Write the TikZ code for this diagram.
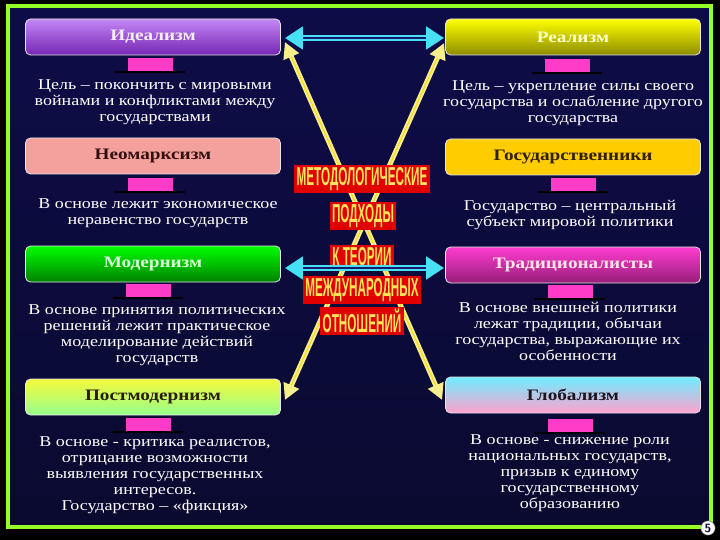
\documentclass[tikz,border=0pt]{standalone}
\usepackage{fontspec}
\setmainfont[FakeStretch=1.2]{Liberation Serif}
\newfontfamily\titlefont[FakeStretch=0.45]{Liberation Sans}
\usetikzlibrary{arrows.meta,calc}

\definecolor{bgtop}{RGB}{14,12,72}
\definecolor{bgmid}{RGB}{24,24,112}
\definecolor{bgbot}{RGB}{10,10,48}
\definecolor{framegreen}{RGB}{150,255,40}
\definecolor{barpink}{RGB}{255,60,200}
\definecolor{ttlred}{RGB}{225,0,0}
\definecolor{ttlyellow}{RGB}{255,228,90}
\definecolor{arrcyan}{RGB}{70,225,245}
\definecolor{arryellow}{RGB}{245,238,140}

\begin{document}
\begin{tikzpicture}[x=1pt,y=-1pt,
  hdr/.style={draw=white!80!gray, line width=0.8pt, rounded corners=5pt,
    minimum width=255pt, minimum height=36pt, inner sep=0pt,
    font=\bfseries\fontsize{16}{18}\selectfont},
  desc/.style={text=white, align=center, inner sep=0pt,
    font=\fontsize{15}{16}\selectfont},
  pinkbar/.style={fill=barpink, minimum width=45pt, minimum height=14pt, inner sep=0pt},
  ttl/.style={fill=ttlred, text=ttlyellow, inner sep=2.5pt,
    font=\titlefont\bfseries\fontsize{26}{26}\selectfont},
  cyanarr/.style={arrcyan, line width=6pt,
    {Triangle[length=18pt,width=22pt]}-{Triangle[length=18pt,width=22pt]}},
  cyanmid/.style={bgmid, line width=1.5pt, shorten <=18pt, shorten >=18pt},
  yelarr/.style={arryellow, line width=5pt,
    {Triangle[length=16pt,width=16pt]}-{Triangle[length=16pt,width=16pt]}},
  yelmid/.style={yellow!70!orange, line width=0.8pt, shorten <=16pt, shorten >=16pt}]

\useasboundingbox (0,0) rectangle (720,540);
\fill[black] (0,0) rectangle (720,540);
\shade[top color=bgtop, middle color=bgmid, bottom color=bgbot] (8,6) rectangle (711,527);
\draw[framegreen, line width=4pt] (8,6) rectangle (711,527);

% boxes
\node[hdr, top color={rgb,255:red,195;green,135;blue,245}, bottom color={rgb,255:red,118;green,38;blue,180}, text=violet!8!white] (ideal) at (153,37) {Идеализм};
\node[hdr, top color=yellow, bottom color=yellow!55!black, text=yellow!20!white] (real) at (573,37) {Реализм};
\node[hdr, fill={rgb,255:red,244;green,160;blue,156}, text={rgb,255:red,50;green,16;blue,16}] (neomarx) at (153,156) {Неомарксизм};
\node[hdr, fill={rgb,255:red,255;green,204;blue,0}, text={rgb,255:red,48;green,32;blue,0}] (gosud) at (573,157) {Государственники};
\node[hdr, top color=green, bottom color=green!50!black, text=green!15!white] (modern) at (153,264) {Модернизм};
\node[hdr, top color={rgb,255:red,255;green,60;blue,210}, bottom color={rgb,255:red,150;green,30;blue,120}, text=pink!40!white] (trad) at (573,265) {Традиционалисты};
\node[hdr, top color={rgb,255:red,245;green,250;blue,60}, bottom color={rgb,255:red,150;green,255;blue,140}, text={rgb,255:red,40;green,30;blue,10}] (postmod) at (153,397) {Постмодернизм};
\node[hdr, top color={rgb,255:red,110;green,238;blue,255}, bottom color={rgb,255:red,255;green,160;blue,205}, text={rgb,255:red,30;green,20;blue,30}] (global) at (573,395) {Глобализм};

% pink links
\foreach \n/\x/\y in {1/150/65, 2/567/66, 3/150/185, 4/573/185, 5/148/291, 6/570/292, 7/148/425, 8/570/426} {
  \node[pinkbar] (bar\n) at (\x,\y) {};
  \draw[black, line width=1.5pt] ($(bar\n.south west)+(-12,0)$) -- ($(bar\n.south east)+(12,0)$);
}

% texts
\node[desc] (dideal) at (155,102) {Цель – покончить с мировыми\\войнами и конфликтами между\\государствами};
\node[desc] (dreal) at (573,103) {Цель – укрепление силы своего\\государства и ослабление другого\\государства};
\node[desc] (dneomarx) at (158,213) {В основе лежит экономическое\\неравенство государств};
\node[desc] (dgosud) at (570,215) {Государство – центральный\\субъект мировой политики};
\node[desc] (dmodern) at (157,335) {В основе принятия политических\\решений лежит практическое\\моделирование действий\\государств};
\node[desc] (dtrad) at (568,331) {В основе внешней политики\\лежат традиции, обычаи\\государства, выражающие их\\особенности};
\node[desc] (dpostmod) at (155,475) {В основе - критика реалистов,\\отрицание возможности\\выявления государственных\\интересов.\\Государство – «фикция»};
\node[desc] (dglobal) at (570,473) {В основе - снижение роли\\национальных государств,\\призыв к единому\\государственному\\образованию};

% crossing arrows
\draw[yelarr] ($(ideal.east)+(4,5)$) -- ($(global.west)+(-3,5)$);
\draw[yelmid] ($(ideal.east)+(4,5)$) -- ($(global.west)+(-3,5)$);
\draw[yelarr] ($(real.west)+(-1,6)$) -- ($(postmod.east)+(4,3)$);
\draw[yelmid] ($(real.west)+(-1,6)$) -- ($(postmod.east)+(4,3)$);

% title
\node[ttl] (t1) at (362,179) {МЕТОДОЛОГИЧЕСКИЕ};
\node[ttl] (t2) at (363,216) {ПОДХОДЫ};
\node[ttl] (t3) at (362,257) {К ТЕОРИИ};
\node[ttl] (t4) at (362,290) {МЕЖДУНАРОДНЫХ};
\node[ttl] (t5) at (362,321) {ОТНОШЕНИЙ};

\draw[cyanarr] ($(ideal.east)+(4,1)$) -- ($(real.west)+(-1,1)$);
\draw[cyanmid] ($(ideal.east)+(4,1)$) -- ($(real.west)+(-1,1)$);
\draw[cyanarr] ($(modern.east)+(4,4)$) -- ($(trad.west)+(-1,3)$);
\draw[cyanmid] ($(modern.east)+(4,4)$) -- ($(trad.west)+(-1,3)$);

\node[circle, fill=white, draw=gray, inner sep=1.2pt, text=bgtop, font=\sffamily\bfseries\fontsize{12}{12}\selectfont] (page) at (708,528) {5};
\end{tikzpicture}
\end{document}
